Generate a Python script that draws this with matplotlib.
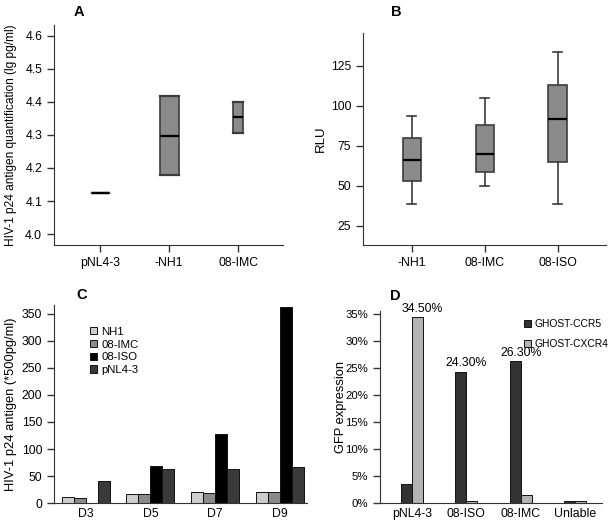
import matplotlib
matplotlib.use("Agg")
import matplotlib.pyplot as plt
import numpy as np

plt.rcParams['font.family'] = ['Liberation Sans', 'DejaVu Sans']
plt.rcParams['font.size'] = 8.8

# Panel A - p24 antigen (lg pg/ml), box stats per strain
a_names = ['pNL4-3', '-NH1', '08-IMC']
a_q1 = [4.125, 4.18, 4.305]
a_med = [4.125, 4.298, 4.355]
a_q3 = [4.125, 4.418, 4.400]
a_widths = [0.25, 0.28, 0.14]

# Panel B - RLU box stats
b_names = ['-NH1', '08-IMC', '08-ISO']
b_lo = [39, 50, 39]
b_q1 = [53, 59, 65]
b_med = [66, 70, 92]
b_q3 = [80, 88, 113]
b_hi = [94, 105, 134]

# Panel C - p24 antigen over days
days = ['D3', 'D5', 'D7', 'D9']
c_series = ['NH1', '08-IMC', '08-ISO', 'pNL4-3']
c_nh1 = [11, 16, 21, 21]
c_imc = [9, 16, 19, 21]
c_iso = [0, 69, 128, 363]
c_pnl = [41, 64, 64, 66]
c_colors = ['#cdcdcd', '#8a8a8a', '#000000', '#3a3a3a']

# Panel D - GFP expression (%)
d_names = ['pNL4-3', '08-ISO', '08-IMC', 'Unlable']
d_ccr5 = [3.5, 24.3, 26.3, 0.4]
d_cxcr4 = [34.5, 0.4, 1.5, 0.4]

fig = plt.figure(figsize=(6.1, 5.23), dpi=100)
axA = fig.add_axes([0.0885, 0.5315, 0.3755, 0.4205])
axB = fig.add_axes([0.595, 0.5315, 0.398, 0.4055])
axC = fig.add_axes([0.0885, 0.038, 0.415, 0.3786])
axD = fig.add_axes([0.623, 0.038, 0.364, 0.367])

for ax in (axA, axB, axC, axD):
    ax.spines['top'].set_visible(False)
    ax.spines['right'].set_visible(False)
    ax.spines['left'].set_color('#333333')
    ax.spines['bottom'].set_color('#333333')
    ax.tick_params(direction='out', length=5, color='#333333', width=1)

boxprops = dict(facecolor='#8a8a8a', edgecolor='#3c3c3c', linewidth=1.2)
medprops = dict(color='#000000', linewidth=1.6)
lineprops = dict(color='#3c3c3c', linewidth=1.2)

# A
statsA = []
for i in range(len(a_names)):
    statsA.append(dict(med=a_med[i], q1=a_q1[i], q3=a_q3[i],
                       whislo=a_q1[i], whishi=a_q3[i], fliers=[]))
axA.bxp(statsA, positions=[1, 2, 3], widths=a_widths, patch_artist=True,
        boxprops=boxprops, medianprops=medprops, whiskerprops=lineprops,
        capprops=dict(color='#3c3c3c', linewidth=1.6), capwidths=a_widths)
axA.set_xlim(0.33, 3.65)
axA.set_ylim(3.967, 4.632)
axA.set_yticks([4.0, 4.1, 4.2, 4.3, 4.4, 4.5, 4.6])
axA.set_xticks([1, 2, 3])
axA.set_xticklabels(a_names)
axA.set_ylabel('HIV-1 p24 antigen quantification (lg pg/ml)', fontsize=8.6)
axA.yaxis.set_label_coords(-0.162, 0.5)

# B
statsB = []
for i in range(len(b_names)):
    statsB.append(dict(med=b_med[i], q1=b_q1[i], q3=b_q3[i],
                       whislo=b_lo[i], whishi=b_hi[i], fliers=[]))
axB.bxp(statsB, positions=[1, 2, 3], widths=0.25, patch_artist=True,
        boxprops=boxprops, medianprops=medprops, whiskerprops=lineprops,
        capprops=lineprops, capwidths=0.12)
axB.set_xlim(0.33, 3.66)
axB.set_ylim(13.1, 145.6)
axB.set_yticks([25, 50, 75, 100, 125])
axB.set_xticks([1, 2, 3])
axB.set_xticklabels(b_names)
axB.set_ylabel('RLU', fontsize=9.5)
axB.yaxis.set_label_coords(-0.148, 0.5)

# C
x = np.arange(len(days))
w = 0.185
for k, (vals, col) in enumerate(zip([c_nh1, c_imc, c_iso, c_pnl], c_colors)):
    axC.bar(x + (k - 1.5) * w, vals, w, color=col, edgecolor='#111111',
            linewidth=0.7, label=c_series[k])
axC.set_xlim(-0.49, 3.42)
axC.set_ylim(0, 366)
axC.set_yticks(np.arange(0, 351, 50))
axC.set_xticks(x)
axC.set_xticklabels(days)
axC.tick_params(axis='x', length=0)
axC.set_ylabel('HIV-1 p24 antigen (*500pg/ml)', fontsize=9.3)
axC.yaxis.set_label_coords(-0.148, 0.5)
axC.legend(loc='upper left', bbox_to_anchor=(0.12, 0.92), frameon=False,
           handlelength=0.65, handleheight=0.65, handletextpad=0.35,
           labelspacing=0.25, borderpad=0, fontsize=8.2)

# D
xd = np.arange(len(d_names))
wd = 0.2
axD.bar(xd - wd / 2, d_ccr5, wd, color='#333333', edgecolor='#111111',
        linewidth=0.7, label='GHOST-CCR5')
axD.bar(xd + wd / 2, d_cxcr4, wd, color='#b3b3b3', edgecolor='#111111',
        linewidth=0.7, label='GHOST-CXCR4')
axD.set_xlim(-0.58, 3.49)
axD.set_ylim(0, 35.6)
axD.set_yticks(np.arange(0, 36, 5))
axD.set_yticklabels([f'{v}%' for v in range(0, 36, 5)])
axD.tick_params(axis='y', labelsize=8.2)
axD.set_xticks(xd)
axD.set_xticklabels(d_names)
axD.tick_params(axis='x', length=0)
axD.set_ylabel('GFP expression', fontsize=9.3)
axD.yaxis.set_label_coords(-0.15, 0.5)
axD.text(xd[0] + 0.2, d_cxcr4[0] + 0.3, f'{d_cxcr4[0]:.2f}%', ha='center',
         va='bottom', clip_on=False)
for i in (1, 2):
    axD.text(xd[i], d_ccr5[i] + 0.5, f'{d_ccr5[i]:.2f}%', ha='center',
             va='bottom')
axD.legend(loc='upper left', bbox_to_anchor=(0.625, 0.985), frameon=False,
           handlelength=0.65, handleheight=0.65, handletextpad=0.4,
           labelspacing=0.95, borderpad=0, fontsize=7.4)

# panel letters
for lab, px, py in [('A', 79, 11.5), ('B', 396, 11.5), ('C', 82, 295), ('D', 395, 296)]:
    fig.text(px / 610, 1 - py / 523, lab, fontsize=10.5, fontweight='bold',
             ha='center', va='center')

fig.savefig('out.png', dpi=100)
